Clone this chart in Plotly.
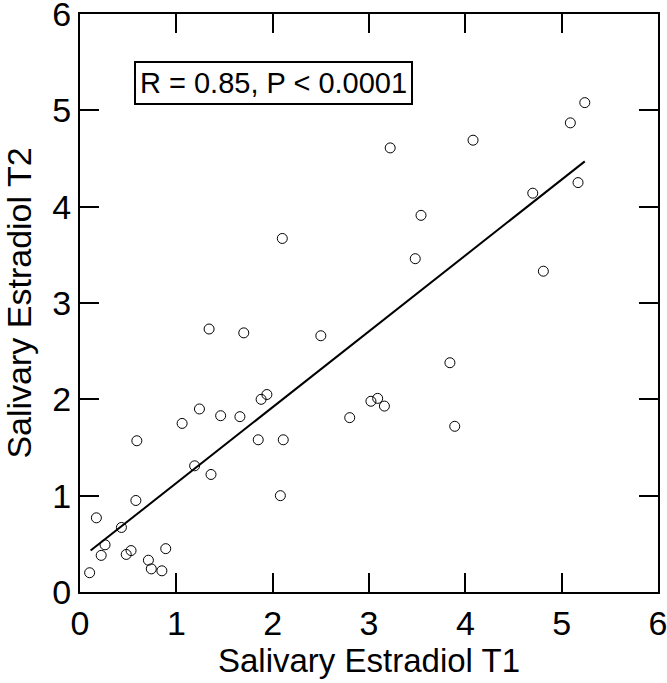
import plotly.graph_objects as go

# Data
t1 = [0.10, 0.17, 0.22, 0.26, 0.43, 0.48, 0.53, 0.59, 0.58, 0.71, 0.74, 0.85, 0.89,
      1.06, 1.19, 1.24, 1.36, 1.46, 1.66, 1.85, 1.88, 1.94, 2.11, 2.08,
      2.50, 3.84, 3.02, 3.09, 3.16, 2.80, 3.89,
      5.24, 5.09, 3.22, 4.08, 5.17, 4.70, 3.54, 3.48, 4.81,
      2.10, 1.34, 1.70]
t2 = [0.20, 0.77, 0.38, 0.49, 0.67, 0.39, 0.43, 1.57, 0.95, 0.33, 0.24, 0.22, 0.45,
      1.75, 1.31, 1.90, 1.22, 1.83, 1.82, 1.58, 2.00, 2.05, 1.58, 1.00,
      2.66, 2.38, 1.98, 2.01, 1.93, 1.81, 1.72,
      5.08, 4.87, 4.61, 4.69, 4.25, 4.14, 3.91, 3.46, 3.33,
      3.67, 2.73, 2.69]
fit_x = [0.11, 5.24]
fit_y = [0.43, 4.47]
tick_vals = [0, 1, 2, 3, 4, 5, 6]
annotation_text = "R = 0.85, P < 0.0001"
x_title = "Salivary Estradiol T1"
y_title = "Salivary Estradiol T2"

FONT = "Liberation Sans, Arial, sans-serif"

fig = go.Figure()
fig.add_trace(go.Scatter(x=fit_x, y=fit_y, mode="lines",
                         line=dict(color="black", width=2), showlegend=False))
fig.add_trace(go.Scatter(x=t1, y=t2, mode="markers",
                         marker=dict(symbol="circle-open", size=10, color="black",
                                     line=dict(width=1, color="black")),
                         showlegend=False))

axis_common = dict(range=[0, 6], tickvals=tick_vals, ticks="inside", ticklen=19,
                   tickwidth=2, tickcolor="black", showline=True, linewidth=2,
                   linecolor="black", mirror="ticks", showgrid=False, zeroline=False,
                   ticklabeloverflow="allow",
                   tickfont=dict(family=FONT, size=34, color="black"))

fig.update_xaxes(**axis_common,
                 title=dict(text=x_title, font=dict(family=FONT, size=33, color="black"),
                            standoff=6))
fig.update_yaxes(**axis_common,
                 title=dict(text=y_title, font=dict(family=FONT, size=34, color="black"),
                            standoff=12))

fig.add_annotation(x=2.01, y=5.285, xref="x", yref="y", text=annotation_text,
                   showarrow=False, font=dict(family=FONT, size=29, color="black"),
                   bordercolor="black", borderwidth=2, borderpad=4, bgcolor="white",
                   xanchor="center", yanchor="middle")

fig.update_layout(width=667, height=683, plot_bgcolor="white", paper_bgcolor="white",
                  margin=dict(l=80, r=9, t=14, b=91, autoexpand=False))

fig.write_html("out.html", config={"displayModeBar": False},
               post_script="document.body.style.margin='0';document.body.style.overflow='hidden';")
